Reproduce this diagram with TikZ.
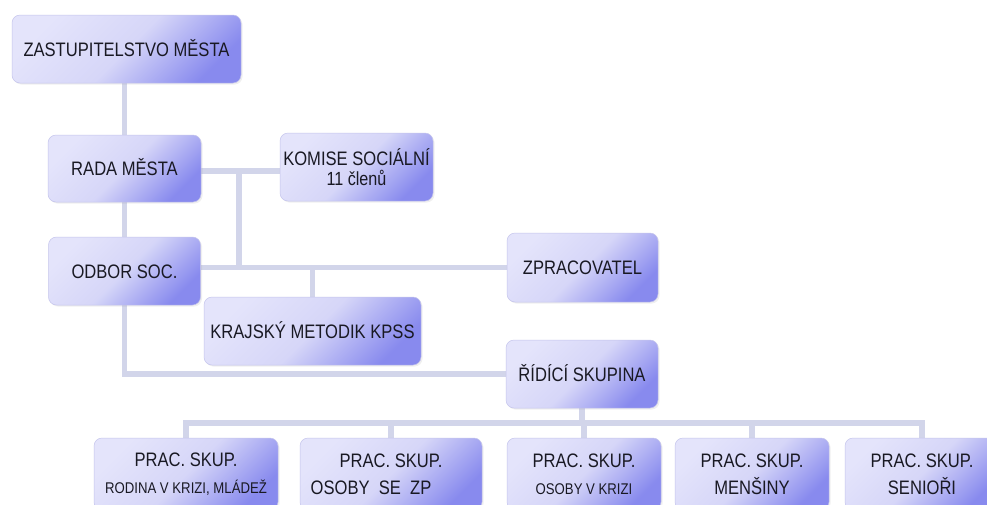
\documentclass[tikz,border=0pt]{standalone}
\usepackage{fontspec}
\newfontfamily\boxfont{Liberation Sans}[FakeStretch=0.85]
\usetikzlibrary{shadows}
\definecolor{linec}{RGB}{210,213,234}
\definecolor{boxA}{RGB}{228,228,251}
\definecolor{boxM}{RGB}{214,214,248}
\definecolor{boxB}{RGB}{136,138,238}
\definecolor{boxedge}{RGB}{196,196,236}
\definecolor{txt}{RGB}{25,25,35}
\pgfdeclarelayer{bg}
\pgfdeclarelayer{lines}
\pgfsetlayers{bg,lines,main}
\begin{document}
\begin{tikzpicture}[x=1pt,y=-1pt,
 box/.style={rounded corners=8pt, draw=boxedge, line width=0.5pt,
   top color=boxA, bottom color=boxB, middle color=boxM, shading angle=45,
   text=txt, font=\boxfont\fontsize{19.5}{22}\selectfont, inner sep=0pt,
   drop shadow={opacity=0.12, shadow xshift=1.5pt, shadow yshift=-1.5pt}},
 one/.style={text height=14pt, text depth=0pt},
 two/.style={align=center, font=\boxfont\fontsize{19.5}{27}\selectfont},
 conn/.style={draw=linec, line width=5.5pt, line join=miter},
]
\useasboundingbox (0,0) rectangle (987,504);
\begin{pgfonlayer}{bg}
\fill[white] (0,0) rectangle (987,504);
\end{pgfonlayer}
\clip (0,0) rectangle (987,504);

\node[box,one,minimum width=229pt,minimum height=68pt] (zast) at (126.5,49) {ZASTUPITELSTVO MĚSTA};
\node[box,one,minimum width=153pt,minimum height=67pt] (rada) at (124.5,168.5) {RADA MĚSTA};
\node[box,align=center,font=\boxfont\fontsize{19.5}{20}\selectfont,minimum width=153pt,minimum height=68pt] (komise) at (356.5,167) {KOMISE SOCIÁLNÍ\\{\fontsize{19}{20}\selectfont 11 členů}};
\node[box,one,minimum width=152pt,minimum height=68pt] (odbor) at (124.5,271) {ODBOR SOC.};
\node[box,one,minimum width=217pt,minimum height=68pt] (krajsky) at (312.5,331) {KRAJSKÝ METODIK KPSS};
\node[box,one,minimum width=151pt,minimum height=69pt] (zprac) at (582.5,267.5) {ZPRACOVATEL};
\node[box,one,minimum width=152pt,minimum height=68pt] (ridici) at (582,374) {ŘÍDÍCÍ SKUPINA};

\node[box,two,minimum width=184pt,minimum height=72pt] (p1) at (186,474) {PRAC. SKUP.\\{\fontsize{15.5}{27}\selectfont RODINA V KRIZI, MLÁDEŽ}};
\node[box,two,minimum width=182pt,minimum height=72pt] (p2) at (391,474) {PRAC. SKUP.\\OSOBY\ \ SE\ \ ZP\hspace*{40pt}};
\node[box,two,minimum width=154pt,minimum height=72pt] (p3) at (584,474) {PRAC. SKUP.\\{\fontsize{15.5}{27}\selectfont OSOBY V KRIZI}};
\node[box,two,minimum width=154pt,minimum height=72pt] (p4) at (752,474) {PRAC. SKUP.\\MENŠINY};
\node[box,two,minimum width=154pt,minimum height=72pt] (p5) at (922,474) {PRAC. SKUP.\\SENIOŘI};

\coordinate (kj) at (239,171);
\coordinate (bus) at (584,423);
\begin{pgfonlayer}{lines}
\draw[conn] (zast.south -| rada.north) -- (rada.north);
\draw[conn] (rada.south) -- (odbor.north);
\draw[conn] (rada.east |- kj) -- (komise.west |- kj);
\draw[conn] (kj) -- (kj |- zprac.west);
\draw[conn] (odbor.east |- zprac.west) -- (zprac.west);
\draw[conn] (krajsky.north) -- (krajsky.north |- zprac.west);
\draw[conn] (odbor.south) |- (ridici.west);
\draw[conn] (ridici.south) -- (ridici.south |- bus);
\draw[conn] (p1.north) |- (bus) -| (p5.north);
\draw[conn] (p2.north) -- (p2.north |- bus);
\draw[conn] (p3.north) -- (p3.north |- bus);
\draw[conn] (p4.north) -- (p4.north |- bus);
\end{pgfonlayer}
\end{tikzpicture}
\end{document}
